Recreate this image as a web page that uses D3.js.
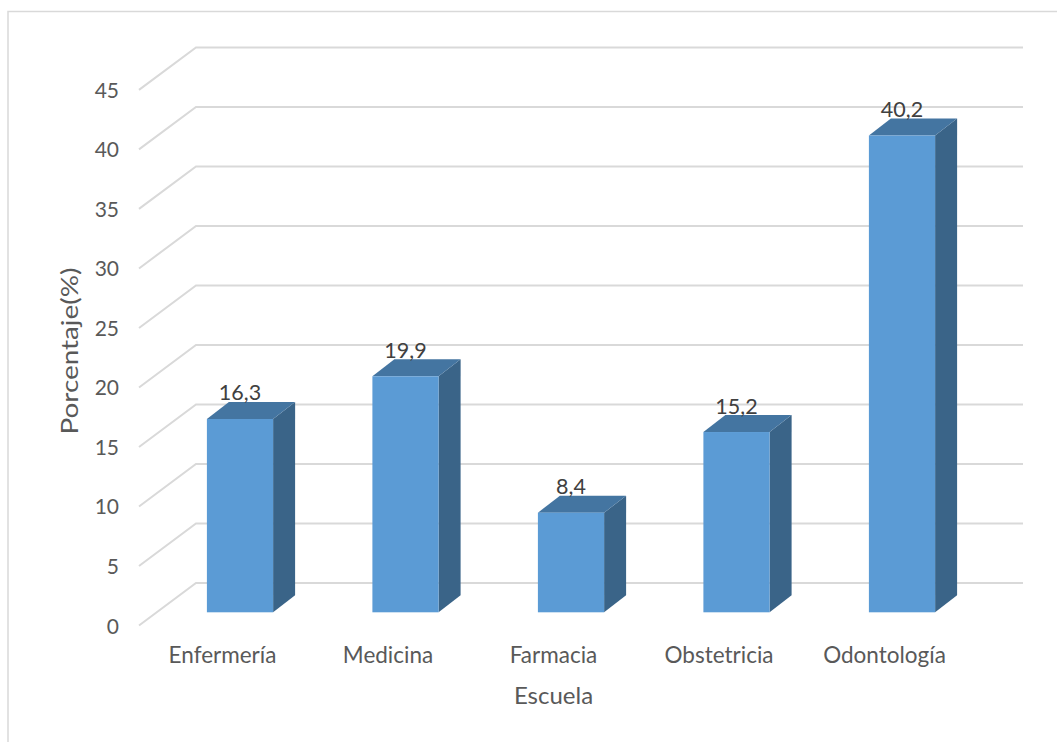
<!DOCTYPE html>
<html><head><meta charset="utf-8">
<script src="https://cdn.jsdelivr.net/npm/d3@7"></script>
<style>html,body{margin:0;padding:0;background:#fff}svg{display:block}text{font-family:Lato,"Open Sans",sans-serif}</style>
</head><body><svg id="c" width="1057" height="742"></svg>
<script>
const categories = ["Enfermería","Medicina","Farmacia","Obstetricia","Odontología"];
const values = [16.3,19.9,8.4,15.2,40.2];
const labels = ["16,3","19,9","8,4","15,2","40,2"];
const yTicks = [0,5,10,15,20,25,30,35,40,45];
const svg = d3.select("#c");
svg.append("path").attr("d","M8,742V11.5H1057").attr("fill","none").attr("stroke","#d9d9d9").attr("stroke-width",1.5);
const y = d3.scaleLinear().domain([0,45]).range([612.3,78.6]);
const yBack = d3.scaleLinear().domain([0,45]).range([583,47.4]);
const x = d3.scaleBand().domain(categories).range([157.25,984.75]).paddingInner(0.6).paddingOuter(0.3);
const wallX0=139, backX0=196, backX1=1023, wallDY=42.5;
const g=svg.append("g");
yTicks.forEach(t=>{
  const yb=yBack(t), yf=yb+wallDY;
  g.append("path").attr("d",`M${wallX0},${yf}L${backX0},${yb}H${backX1}`).attr("fill","none").attr("stroke","#d9d9d9").attr("stroke-width",2);
  svg.append("text").attr("x",119).attr("y",yf+8).attr("text-anchor","end").attr("font-size",21).attr("fill","#595959").text(t);
});
const dx=22,dy=17;
categories.forEach((c,i)=>{
  const x0=x(c), w=x.bandwidth(), yt=y(values[i]), yb=y(0);
  svg.append("path").attr("d",`M${x0+w},${yt}l${dx},${-dy}V${yb-dy}l${-dx},${dy}Z`).attr("fill","#3a6488");
  svg.append("path").attr("d",`M${x0},${yt}l${dx},${-dy}h${w}l${-dx},${dy}Z`).attr("fill","#4475a1");
  svg.append("rect").attr("x",x0).attr("y",yt).attr("width",w).attr("height",yb-yt).attr("fill","#5b9bd5");
  svg.append("text").attr("x",x0+w/2).attr("y",yt-18.5).attr("text-anchor","middle").attr("font-size",21.5).attr("fill","#404040").text(labels[i]);
  svg.append("text").attr("x",x0+w/2-17.5).attr("y",663).attr("text-anchor","middle").attr("font-size",22.5).attr("fill","#595959").text(c);
});
svg.append("text").attr("x",553.5).attr("y",704).attr("text-anchor","middle").attr("font-size",24).attr("fill","#595959").text("Escuela");
svg.append("text").attr("transform","translate(78,351) rotate(-90)").attr("text-anchor","middle").attr("font-size",23).attr("textLength",167).attr("lengthAdjust","spacingAndGlyphs").attr("fill","#595959").text("Porcentaje(%)");
</script></body></html>
